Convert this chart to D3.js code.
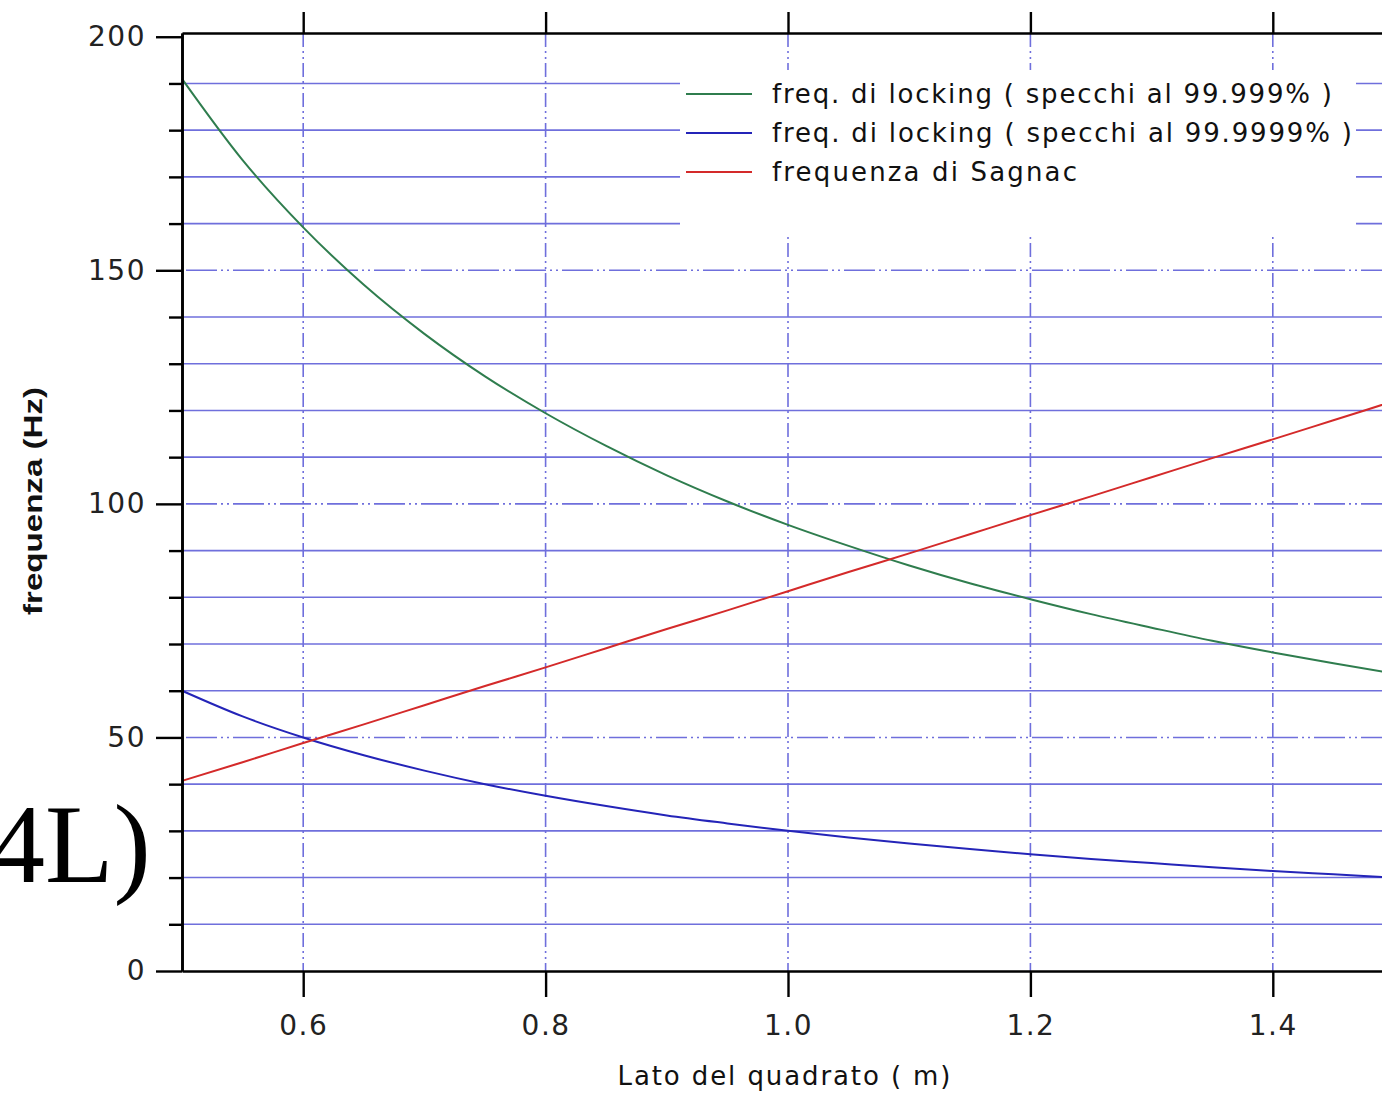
<!DOCTYPE html>
<html>
<head>
<meta charset="utf-8">
<script src="https://cdn.jsdelivr.net/npm/d3@7"></script>
<style>
  html, body { margin: 0; padding: 0; background: #ffffff; overflow: hidden; }
  svg { display: block; }
</style>
</head>
<body>
<svg id="chart" width="1382" height="1094"></svg>
<script>
// ---- data ----
const lato = [0.50, 0.55, 0.60, 0.65, 0.70, 0.75, 0.80, 0.85, 0.90, 0.95, 1.00,
              1.05, 1.10, 1.15, 1.20, 1.25, 1.30, 1.35, 1.40, 1.45, 1.50];
const lockingLow = [191.0, 173.6, 159.2, 146.9, 136.4, 127.3, 119.4, 112.4, 106.1, 100.5, 95.5,
                    91.0, 86.8, 83.0, 79.6, 76.4, 73.5, 70.7, 68.2, 65.9, 63.7];
const lockingHigh = [60.0, 54.5, 50.0, 46.2, 42.9, 40.0, 37.5, 35.3, 33.3, 31.6, 30.0,
                     28.6, 27.3, 26.1, 25.0, 24.0, 23.1, 22.2, 21.4, 20.7, 20.0];
const sagnac = [40.7, 44.7, 48.8, 52.8, 56.9, 61.0, 65.0, 69.1, 73.2, 77.2, 81.3,
                85.4, 89.4, 93.5, 97.6, 101.6, 105.7, 109.8, 113.8, 117.9, 122.0];
const seriesNames = ["freq. di locking (specchi al 99.999%)",
                     "freq. di locking (specchi al 99.9999%)",
                     "frequenza di Sagnac"];
const seriesColors = ["#2f7d4e", "#2424b8", "#d42a2a"];
const xTickValues = [0.6, 0.8, 1.0, 1.2, 1.4];
const yTickValues = [0, 50, 100, 150, 200];
const yMinorValues = [10, 20, 30, 40, 60, 70, 80, 90, 110, 120, 130, 140, 160, 170, 180, 190];
const xTitle = "Lato del quadrato ( m)";
const yTitle = "frequenza (Hz)";
const stray = "4L)";

// ---- layout ----
const svg = d3.select("#chart");
const x = d3.scaleLinear().domain([0.5, 1.5]).range([182, 1394]);
const y = d3.scaleLinear().domain([0, 200.8]).range([971, 33]);
const [x0, x1] = x.range();
const [yBot, yTop] = y.range();
const gridColor = "#6f6fdc";
const font = "'DejaVu Sans', Verdana, sans-serif";

svg.append("rect").attr("width", 1382).attr("height", 1094).attr("fill", "#fff");

// stray large text at left
svg.append("text").attr("x", -11).attr("y", 882)
  .attr("font-family", "'Liberation Serif', 'Times New Roman', serif")
  .attr("font-size", 112).attr("fill", "#000").text(stray);

const grid = svg.append("g");
// minor horizontal (solid)
grid.selectAll("line.hmin").data(yMinorValues).join("line")
  .attr("x1", x0).attr("x2", x1)
  .attr("y1", d => y(d)).attr("y2", d => y(d))
  .attr("stroke", gridColor).attr("stroke-width", 1.6);
// major horizontal (dash-dot-dot)
grid.selectAll("line.hmaj").data(yTickValues.filter(d => d > 0 && d < 200)).join("line")
  .attr("x1", x0 + 4).attr("x2", x1)
  .attr("y1", d => y(d)).attr("y2", d => y(d))
  .attr("stroke", gridColor).attr("stroke-width", 1.6)
  .attr("stroke-dasharray", "31,4,2,4,2,4");
// vertical (dash-dot-dot)
grid.selectAll("line.v").data(xTickValues).join("line")
  .attr("x1", d => x(d)).attr("x2", d => x(d))
  .attr("y1", yTop).attr("y2", yBot)
  .attr("stroke", gridColor).attr("stroke-width", 1.6)
  .attr("stroke-dasharray", "14,4,2,4,2,4");

// legend background box
svg.append("rect").attr("x", 680).attr("y", 70).attr("width", 676).attr("height", 165)
  .attr("fill", "#fff");

// curves
const line = d3.line().x((d, i) => x(lato[i])).y(d => y(d)).curve(d3.curveMonotoneX);
[lockingLow, lockingHigh, sagnac].forEach((s, i) => {
  svg.append("path").datum(s).attr("d", line)
    .attr("fill", "none").attr("stroke", seriesColors[i]).attr("stroke-width", 2);
});

// axes
const axisStyle = g => {
  g.selectAll(".domain").attr("stroke", "#000").attr("stroke-width", 2.6);
  g.selectAll(".tick line").attr("stroke", "#000").attr("stroke-width", 2.4);
  g.selectAll(".tick text").attr("font-family", font).attr("font-size", 28)
    .attr("fill", "#222").attr("letter-spacing", 1.5);
};
// bottom
svg.append("g").attr("transform", `translate(0,${yBot})`)
  .call(d3.axisBottom(x).tickValues(xTickValues).tickFormat(d3.format(".1f"))
    .tickSize(26).tickSizeOuter(0).tickPadding(18))
  .call(axisStyle);
// top
svg.append("g").attr("transform", `translate(0,${yTop})`)
  .call(d3.axisTop(x).tickValues(xTickValues).tickFormat("").tickSize(21).tickSizeOuter(0))
  .call(axisStyle);
// left minor ticks
svg.append("g").attr("transform", `translate(${x0},0)`)
  .call(d3.axisLeft(y).tickValues(yMinorValues).tickFormat("").tickSize(13).tickSizeOuter(0))
  .call(axisStyle);
// left major
svg.append("g").attr("transform", `translate(${x0},0)`)
  .call(d3.axisLeft(y).tickValues(yTickValues).tickSize(26).tickSizeOuter(0).tickPadding(10))
  .call(axisStyle);

// legend
const lg = svg.append("g");
const legendY = [94, 133, 172];
const legendW = [560, 580, 305];
seriesNames.forEach((name, i) => {
  lg.append("line").attr("x1", 686).attr("x2", 752)
    .attr("y1", legendY[i]).attr("y2", legendY[i])
    .attr("stroke", seriesColors[i]).attr("stroke-width", 2);
  lg.append("text").attr("x", 772).attr("y", legendY[i] + 9)
    .attr("font-family", font).attr("font-size", 26).attr("fill", "#111")
    .attr("textLength", legendW[i]).attr("lengthAdjust", "spacing")
    .text(name.replace("(", "( ").replace(")", " )"));
});

// titles
svg.append("text").attr("x", 784).attr("y", 1085).attr("text-anchor", "middle")
  .attr("font-family", font).attr("font-size", 26).attr("fill", "#111")
  .attr("textLength", 333).attr("lengthAdjust", "spacing").text(xTitle);
svg.append("text").attr("transform", "translate(42,501) rotate(-90)")
  .attr("text-anchor", "middle").attr("font-family", "'Liberation Sans Narrow', 'Liberation Sans', sans-serif")
  .attr("font-weight", "bold").attr("font-size", 25).attr("fill", "#111")
  .attr("textLength", 228).attr("lengthAdjust", "spacingAndGlyphs").text(yTitle);
</script>
</body>
</html>
